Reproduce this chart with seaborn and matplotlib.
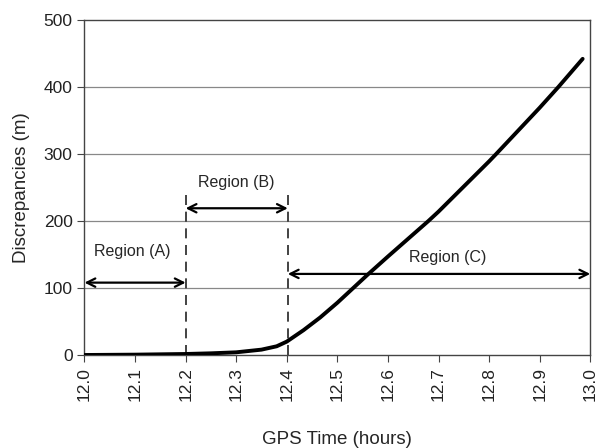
import numpy as np
import pandas as pd
import seaborn as sns
import matplotlib.pyplot as plt

# curve
gps_time = [12.0, 12.1, 12.2, 12.25, 12.3, 12.35, 12.38, 12.4, 12.433, 12.466,
            12.5, 12.53, 12.56, 12.6, 12.68, 12.7, 12.8, 12.814, 12.9, 12.937, 12.985]
discrepancy = [0, 0.5, 1.5, 2.5, 4, 8, 13, 20, 37, 56,
               78, 99, 120, 147, 200, 214, 289, 300, 369, 400, 442]

region_bounds = [12.0, 12.2, 12.402, 13.0]
region_labels = ['Region (A)', 'Region (B)', 'Region (C)']
arrow_y = [108, 219, 121]
label_xy = [(12.094, 154), (12.3, 258), (12.718, 146)]
dash_top = 243

df = pd.DataFrame({'t': gps_time, 'd': discrepancy})

sns.set_style('white')
plt.rcParams['font.family'] = ['Liberation Sans', 'DejaVu Sans']

fig = plt.figure(figsize=(5.95, 4.48), dpi=100)
ax = fig.add_axes([0.142, 0.2076, 0.850, 0.7478])

for yv in [100, 200, 300, 400]:
    ax.axhline(yv, color='#888888', lw=0.9, zorder=0)

sns.lineplot(data=df, x='t', y='d', color='black', lw=2.8, ax=ax, zorder=3)

for xv in region_bounds[1:3]:
    ax.plot([xv, xv], [0, dash_top], color='#222222', lw=1.2, ls=(0, (6, 4)), zorder=2)

for i, lab in enumerate(region_labels):
    ax.annotate('', xy=(region_bounds[i], arrow_y[i]), xytext=(region_bounds[i + 1], arrow_y[i]),
                arrowprops=dict(arrowstyle='<->', color='black', lw=1.6,
                                mutation_scale=15, shrinkA=0, shrinkB=0),
                annotation_clip=False, zorder=4)
    ax.text(label_xy[i][0], label_xy[i][1], lab, ha='center', va='center', fontsize=11.5)

ax.set_xlim(12.0, 13.0)
ax.set_ylim(0, 500)
ticks = np.round(np.arange(12.0, 13.01, 0.1), 1)
ax.set_xticks(ticks)
ax.set_xticklabels([f'{v:.1f}' for v in ticks], rotation=90)
ax.set_yticks([0, 100, 200, 300, 400, 500])
ax.tick_params(axis='both', direction='out', length=5, width=0.8, labelsize=12.5,
               bottom=True, left=True, color='#444444', labelcolor='#222222')
for s in ax.spines.values():
    s.set_color('#444444')
    s.set_linewidth(1.0)

ax.set_xlabel('GPS Time (hours)', fontsize=13.5, labelpad=22)
ax.set_ylabel('Discrepancies (m)', fontsize=13.5, labelpad=10)

fig.savefig('out.png', dpi=100)
